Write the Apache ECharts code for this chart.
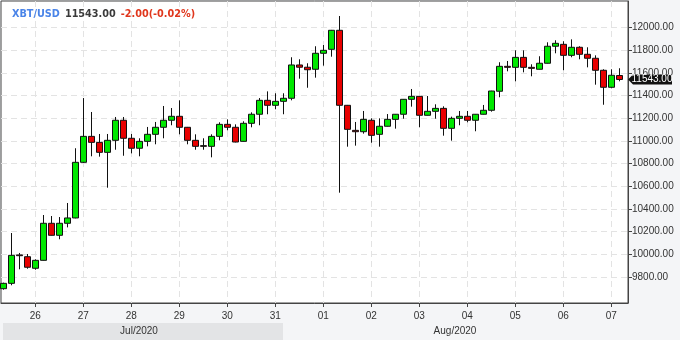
<!DOCTYPE html>
<html><head><meta charset="utf-8">
<script src="https://cdn.jsdelivr.net/npm/echarts@6/dist/echarts.min.js"></script>
<style>html,body{margin:0;padding:0;background:#f4f5f7;}#c{width:680px;height:340px;}</style>
</head><body><div id="c"></div>
<script>
// ---- data ----
const symbolName = 'XBT/USD';
const lastPrice = 11543.00;
const changeText = '-2.00(-0.02%)';
const firstCandleHour = 8;      // hours after 2020-07-25 00:00 (4h candles)
const candleStepHours = 4;
// [open, close, low, high]
const ohlc = [
  [9697, 9744, 9688, 9750],
  [9744, 9991, 9727, 10188],
  [9995, 9988, 9868, 10012],
  [9979, 9886, 9873, 10003],
  [9877, 9947, 9864, 9956],
  [9947, 10274, 9945, 10347],
  [10274, 10168, 10166, 10338],
  [10168, 10274, 10133, 10329],
  [10274, 10321, 10238, 10453],
  [10321, 10812, 10318, 10936],
  [10812, 11041, 10806, 11379],
  [11041, 10988, 10865, 11256],
  [10988, 10900, 10862, 11062],
  [10900, 11006, 10588, 11062],
  [11006, 11183, 10923, 11212],
  [11183, 11024, 10870, 11212],
  [11024, 10936, 10891, 11062],
  [10936, 10997, 10865, 11024],
  [10997, 11059, 10953, 11124],
  [11059, 11121, 10971, 11168],
  [11121, 11183, 11024, 11309],
  [11183, 11218, 11139, 11291],
  [11218, 11121, 11059, 11359],
  [11121, 11006, 10971, 11124],
  [11006, 10953, 10923, 11059],
  [10959, 10953, 10923, 11024],
  [10953, 11041, 10856, 11059],
  [11041, 11147, 11006, 11165],
  [11147, 11121, 11094, 11191],
  [11121, 10991, 10988, 11147],
  [10997, 11156, 10995, 11174],
  [11156, 11236, 11121, 11253],
  [11236, 11359, 11139, 11379],
  [11359, 11315, 11236, 11438],
  [11315, 11350, 11280, 11421],
  [11350, 11377, 11236, 11421],
  [11377, 11671, 11359, 11739],
  [11671, 11651, 11550, 11721],
  [11651, 11629, 11470, 11686],
  [11633, 11774, 11559, 11836],
  [11774, 11800, 11665, 11847],
  [11809, 11977, 11744, 11980],
  [11977, 11315, 10544, 12103],
  [11315, 11103, 10950, 11318],
  [11094, 11082, 10959, 11168],
  [11082, 11191, 11065, 11265],
  [11183, 11050, 10985, 11200],
  [11059, 11130, 10950, 11200],
  [11130, 11191, 11128, 11238],
  [11191, 11236, 11109, 11238],
  [11236, 11368, 11197, 11370],
  [11368, 11394, 11303, 11459],
  [11394, 11227, 11121, 11396],
  [11227, 11262, 11225, 11397],
  [11262, 11288, 11197, 11324],
  [11288, 11112, 11047, 11306],
  [11112, 11200, 11003, 11215],
  [11200, 11218, 11139, 11265],
  [11218, 11183, 11165, 11265],
  [11183, 11236, 11086, 11238],
  [11236, 11271, 11234, 11318],
  [11271, 11441, 11259, 11443],
  [11439, 11659, 11386, 11695],
  [11659, 11650, 11615, 11706],
  [11650, 11738, 11527, 11800],
  [11738, 11650, 11606, 11800],
  [11650, 11641, 11571, 11677],
  [11633, 11686, 11631, 11748],
  [11686, 11836, 11684, 11871],
  [11836, 11862, 11774, 11889],
  [11853, 11756, 11624, 11880],
  [11756, 11827, 11739, 11897],
  [11827, 11765, 11721, 11836],
  [11765, 11730, 11650, 11827],
  [11730, 11624, 11497, 11756],
  [11624, 11474, 11320, 11633],
  [11474, 11580, 11465, 11633],
  [11578, 11543, 11527, 11642]
];
const dayLabels = ['26','27','28','29','30','31','01','02','03','04','05','06','07'];
const dayHours  = [24, 48, 72, 96, 120, 144, 168, 192, 216, 240, 264, 288, 312];
const priceTicks = [9800, 10000, 10200, 10400, 10600, 10800, 11000, 11200, 11400, 11600, 11800, 12000];
const monthLabels = ['Jul/2020', 'Aug/2020'];

// ---- view range ----
const xMin = 6.85, xMax = 320.35;
const yMin = 9570.6, yMax = 12235.4;

const seriesData = ohlc.map((d, i) => [firstCandleHour + i * candleStepHours, d[0], d[1], d[2], d[3]]);

const chart = echarts.init(document.getElementById('c'), null, {renderer: 'canvas'});
const gridLine = {show: true, lineStyle: {color: '#e3e3e3', width: 1, type: [6, 4]}};
chart.setOption({
  animation: false,
  backgroundColor: '#f4f5f7',
  textStyle: {fontFamily: 'Liberation Sans'},
  title: {
    left: 7, top: 0,
    text: '{a|' + symbolName + '} {b|' + lastPrice.toFixed(2) + '} {c|' + changeText + '}',
    textStyle: {
      rich: {
        a: {fontFamily: 'DejaVu Sans', fontWeight: 'bold', fontSize: 9.7, color: '#4a84e8'},
        b: {fontFamily: 'DejaVu Sans', fontWeight: 'bold', fontSize: 9.7, color: '#3a3a3a'},
        c: {fontFamily: 'DejaVu Sans', fontWeight: 'bold', fontSize: 9.7, color: '#e0361c'}
      }
    }
  },
  grid: {
    left: 1, top: 1, right: 52, bottom: 37,
    show: true, backgroundColor: '#ffffff', borderColor: '#444', borderWidth: 1
  },
  xAxis: {
    type: 'value', min: xMin, max: xMax, position: 'bottom',
    axisLine: {show: true, onZero: false, lineStyle: {color: '#444'}},
    axisTick: {show: true, customValues: dayHours, length: 4, lineStyle: {color: '#444'}},
    axisLabel: {
      customValues: dayHours, color: '#333', fontSize: 10, margin: 8,
      formatter: v => dayLabels[dayHours.indexOf(Math.round(v))] || ''
    },
    splitLine: gridLine
  },
  yAxis: {
    type: 'value', min: yMin, max: yMax, position: 'right', scale: true,
    axisLine: {show: true, lineStyle: {color: '#444'}},
    axisTick: {show: true, customValues: priceTicks, length: 4, lineStyle: {color: '#444'}},
    axisLabel: {
      customValues: priceTicks, color: '#333', fontSize: 10, margin: 4,
      formatter: v => v.toFixed(2)
    },
    splitLine: gridLine
  },
  series: [{
    type: 'candlestick',
    data: seriesData,
    barWidth: 6,
    itemStyle: {
      color: '#00e800', color0: '#e80000',
      borderColor: '#111', borderColor0: '#111', borderColorDoji: '#111', borderWidth: 1
    },
    markPoint: {
      symbol: 'path://M0,5 L5,0 L44,0 L44,10 L5,10 Z',
      symbolSize: [44, 10],
      symbolKeepAspect: false,
      symbolOffset: [22, 0],
      itemStyle: {color: '#111'},
      label: {show: true, position: 'inside', color: '#fff', fontSize: 10, offset: [2, 0],
        formatter: () => lastPrice.toFixed(2)},
      data: [{coord: [xMax, lastPrice]}]
    }
  }],
  graphic: [
    {type: 'rect', left: 3, top: 323, shape: {width: 280, height: 17}, style: {fill: '#e3e4e6'}, silent: true},
    {type: 'text', x: 139, y: 331, style: {text: monthLabels[0], fill: '#333', font: '10px Liberation Sans', align: 'center', verticalAlign: 'middle'}},
    {type: 'text', x: 455, y: 331, style: {text: monthLabels[1], fill: '#333', font: '10px Liberation Sans', align: 'center', verticalAlign: 'middle'}}
  ]
});
</script>
</body></html>
